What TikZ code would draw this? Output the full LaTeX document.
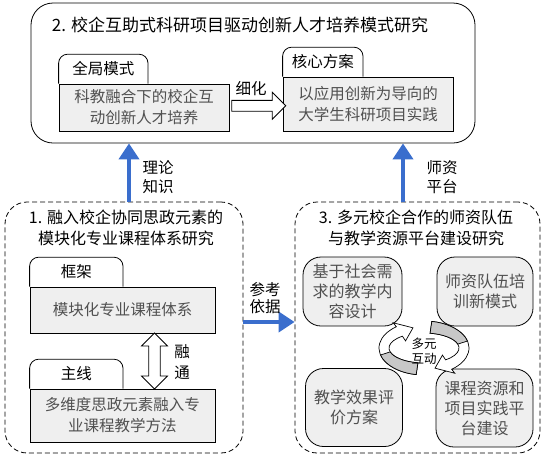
\documentclass[tikz,border=0pt]{standalone}
\usepackage{fontspec}
\setmainfont{Noto Sans CJK SC}
\usetikzlibrary{positioning,calc,arrows.meta,shapes.arrows}
\definecolor{linkblue}{RGB}{58,110,205}
\definecolor{boxgray}{RGB}{239,239,239}
\definecolor{txtgray}{RGB}{80,80,80}
\definecolor{ribgray}{RGB}{200,200,200}

\tikzset{
  frame/.style={draw,rounded corners=22pt,line width=0.8pt},
  dashframe/.style={frame,dash pattern=on 5pt off 3pt},
  title/.style={font=\fontsize{16}{21}\selectfont,align=center},
  content/.style={draw,fill=boxgray,text=txtgray,align=center,font=\fontsize{15.5}{21}\selectfont,inner sep=0pt,line width=0.8pt},
  tab/.style={minimum height=29pt,inner sep=0pt,font=\fontsize{15.5}{18}\selectfont,anchor=south west},
  cell/.style={content,rounded corners=18pt,font=\fontsize{16}{20}\selectfont},
  link/.style={draw=linkblue,line width=4.5pt,-{Triangle[width=20pt,length=16pt]}},
  note/.style={align=center,font=\fontsize{15.5}{19}\selectfont},
  hollow/.style={draw,fill=white,line width=0.8pt,inner sep=5pt,minimum width=26pt},
}

\begin{document}
\begin{tikzpicture}[x=1pt,y=-1pt]
\useasboundingbox (0,0) rectangle (544,456);

% 2. top part
\node[frame,minimum width=444pt,minimum height=140pt] (top) at (253,73) {};
\node[title,font=\fontsize{17}{21}\selectfont] (toptitle) at (240,25) {2. 校企互助式科研项目驱动创新人才培养模式研究};
\node[content,minimum width=170pt,minimum height=47pt] (g1) at (144,107.5) {科教融合下的校企互\\动创新人才培养};
\node[content,minimum width=170pt,minimum height=54pt] (c1) at (368,104) {以应用创新为导向的\\大学生科研项目实践};
\node[tab,minimum width=89pt] (g1tab) at (g1.north west) {全局模式};
\node[tab,minimum width=80pt] (c1tab) at (c1.north west) {核心方案};
\node[hollow,single arrow,single arrow head extend=8pt,minimum height=54pt] (refine) at ($(g1.east)!0.5!(c1.west)$) {};
\node[note,above=1pt of refine,xshift=-5pt] (refinelabel) {细化};

% 1. left part
\node[dashframe,minimum width=238pt,minimum height=251pt] (boxA) at (124,327.5) {};
\node[title] (titleA) at (126,228) {1. 融入校企协同思政元素的\\模块化专业课程体系研究};
\node[content,minimum width=185pt,minimum height=46pt] (k1) at (122.5,310) {模块化专业课程体系};
\node[content,minimum width=185pt,minimum height=53pt] (k2) at (122.5,415.5) {多维度思政元素融入专\\业课程教学方法};
\node[tab,minimum width=93pt] (k1tab) at (k1.north west) {框架};
\node[tab,minimum width=93pt] (k2tab) at (k2.north west) {主线};
\node[hollow,double arrow,double arrow head extend=7pt,rotate=90,minimum height=56pt] (merge) at (154.5,361) {};
\node[note,font=\fontsize{15.5}{21}\selectfont] (mergelabel) at (182,362) {融\\通};

% tabs: only the top corners are rounded
\foreach \t in {g1tab,c1tab,k1tab,k2tab}
  \draw[line width=0.8pt,rounded corners=9pt] (\t.south west) -- (\t.north west) -- (\t.north east) -- (\t.south east);

% 3. right part
\node[dashframe,minimum width=245pt,minimum height=251pt] (boxC) at (417.5,327.5) {};
\node[title] (titleC) at (416,228) {3. 多元校企合作的师资队伍\\与教学资源平台建设研究};
\node[cell,minimum width=99pt,minimum height=69pt] (need) at (352.5,291.5) {基于社会需\\求的教学内\\容设计};
\node[cell,minimum width=96pt,minimum height=69pt] (train) at (485,291.5) {师资队伍培\\训新模式};
\node[cell,minimum width=97pt,minimum height=78pt] (eval) at (354,407.5) {教学效果评\\价方案};
\node[cell,minimum width=97pt,minimum height=78pt] (platform) at (484.5,408) {课程资源和\\项目实践平\\台建设};

% circular arrows
\coordinate (mc) at (424,348);
\foreach \a/\b/\c/\d in {100/165/232/254, 280/345/412/434}{
  \filldraw[fill=white,line width=0.7pt] ($(mc)+(\a:45 and 27)$) arc[start angle=\a,end angle=\c,x radius=45,y radius=27]
    -- ($(mc)+(\c:50 and 32)$) -- ($(mc)+(\d:40 and 21)$) -- ($(mc)+(\c:30 and 9)$) -- ($(mc)+(\c:35 and 15)$)
    arc[start angle=\c,end angle=\a,x radius=35,y radius=15] -- cycle;
  \filldraw[fill=ribgray,line width=0.7pt] ($(mc)+(\a:45 and 27)$) arc[start angle=\a,end angle=\b,x radius=45,y radius=27]
    -- ($(mc)+(\b:35 and 15)$) arc[start angle=\b,end angle=\a,x radius=35,y radius=15] -- cycle;
}
\node[align=center,font=\fontsize{12.5}{15}\selectfont] (interact) at (424,351) {多元\\互动};

% blue connectors
\coordinate (a1) at ([xshift=5pt]boxA.north);
\draw[link] (a1) -- (a1 |- top.south);
\coordinate (c3) at ([xshift=-14.5pt]boxC.north);
\draw[link] (c3) -- (c3 |- top.south);
\coordinate (a2) at ([yshift=5.5pt]boxA.east);
\draw[link] (a2) -- (a2 -| boxC.west);
\node[note] (theory) at (158,177) {理论\\知识};
\node[note] (staff) at (442,177) {师资\\平台};
\node[note,font=\fontsize{15.5}{17}\selectfont] (basis) at (265,298) {参考\\依据};
\end{tikzpicture}
\end{document}
